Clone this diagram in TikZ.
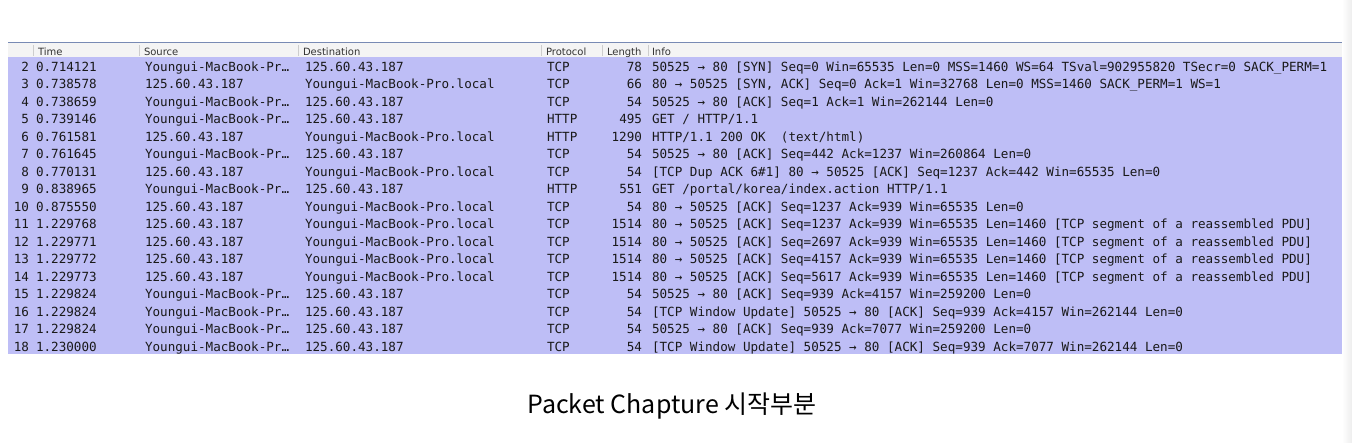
\documentclass[tikz,border=0pt]{standalone}
\usepackage{fontspec}
\newfontfamily\monofont{DejaVu Sans Mono}
\newfontfamily\hdrfont{DejaVu Sans}
\newfontfamily\capfont{Noto Sans CJK KR}
\definecolor{rowbg}{RGB}{190,190,246}
\definecolor{hdrbg}{RGB}{244,244,244}
\definecolor{topline}{RGB}{120,138,180}
\definecolor{sepcol}{RGB}{205,205,205}
\definecolor{txt}{RGB}{25,25,25}
\tikzset{
 cell/.style={inner sep=0pt, outer sep=0pt, font=\monofont\fontsize{12.6}{14}\selectfont, text=txt},
 lcell/.style={cell, anchor=base west},
 rcell/.style={cell, anchor=base east},
 hdr/.style={inner sep=0pt, outer sep=0pt, anchor=base west, font=\hdrfont\fontsize{10}{12}\selectfont, text=black!80},
 colsep/.style={draw=sepcol, line width=0.8pt},
}
\newcommand\pktrow[7]{%
 \pgfmathsetmacro\rowy{71+17.5*(#1-2)}%
 \node[rcell] (no#1) at (29,\rowy) {#1};
 \node[lcell] (t#1) at (36,\rowy) {#2};
 \node[lcell] (src#1) at (145,\rowy) {#3};
 \node[lcell] (dst#1) at (305,\rowy) {#4};
 \node[lcell] (pr#1) at (547,\rowy) {#5};
 \node[rcell] (len#1) at (642,\rowy) {#6};
 \node[lcell] (info#1) at (652,\rowy) {#7};
}
\begin{document}
\begin{tikzpicture}[x=1pt,y=-1pt]
\fill[white] (0,0) rectangle (1352,442);
\useasboundingbox (0,0) rectangle (1352,442);
% header and body
\fill[hdrbg] (8,42) rectangle (1342,57);
\fill[rowbg] (8,57) rectangle (1342,354);
\draw[topline, line width=1pt] (8,42) -- (1342,42);
\foreach \sx in {33,139,298,541,602,648}{
 \draw[colsep] (\sx,45) -- (\sx,56);
}
\node[hdr] (hTime) at (38,55) {Time};
\node[hdr] (hSrc) at (144,55) {Source};
\node[hdr] (hDst) at (303,55) {Destination};
\node[hdr] (hProto) at (546,55) {Protocol};
\node[hdr] (hLen) at (607,55) {Length};
\node[hdr] (hInfo) at (652,55) {Info};
% rows
\pktrow{2}{0.714121}{Youngui-MacBook-Pr…}{125.60.43.187}{TCP}{78}{50525 → 80 [SYN] Seq=0 Win=65535 Len=0 MSS=1460 WS=64 TSval=902955820 TSecr=0 SACK\_PERM=1}
\pktrow{3}{0.738578}{125.60.43.187}{Youngui-MacBook-Pro.local}{TCP}{66}{80 → 50525 [SYN, ACK] Seq=0 Ack=1 Win=32768 Len=0 MSS=1460 SACK\_PERM=1 WS=1}
\pktrow{4}{0.738659}{Youngui-MacBook-Pr…}{125.60.43.187}{TCP}{54}{50525 → 80 [ACK] Seq=1 Ack=1 Win=262144 Len=0}
\pktrow{5}{0.739146}{Youngui-MacBook-Pr…}{125.60.43.187}{HTTP}{495}{GET / HTTP/1.1}
\pktrow{6}{0.761581}{125.60.43.187}{Youngui-MacBook-Pro.local}{HTTP}{1290}{HTTP/1.1 200 OK\ \ (text/html)}
\pktrow{7}{0.761645}{Youngui-MacBook-Pr…}{125.60.43.187}{TCP}{54}{50525 → 80 [ACK] Seq=442 Ack=1237 Win=260864 Len=0}
\pktrow{8}{0.770131}{125.60.43.187}{Youngui-MacBook-Pro.local}{TCP}{54}{[TCP Dup ACK 6\#1] 80 → 50525 [ACK] Seq=1237 Ack=442 Win=65535 Len=0}
\pktrow{9}{0.838965}{Youngui-MacBook-Pr…}{125.60.43.187}{HTTP}{551}{GET /portal/korea/index.action HTTP/1.1}
\pktrow{10}{0.875550}{125.60.43.187}{Youngui-MacBook-Pro.local}{TCP}{54}{80 → 50525 [ACK] Seq=1237 Ack=939 Win=65535 Len=0}
\pktrow{11}{1.229768}{125.60.43.187}{Youngui-MacBook-Pro.local}{TCP}{1514}{80 → 50525 [ACK] Seq=1237 Ack=939 Win=65535 Len=1460 [TCP segment of a reassembled PDU]}
\pktrow{12}{1.229771}{125.60.43.187}{Youngui-MacBook-Pro.local}{TCP}{1514}{80 → 50525 [ACK] Seq=2697 Ack=939 Win=65535 Len=1460 [TCP segment of a reassembled PDU]}
\pktrow{13}{1.229772}{125.60.43.187}{Youngui-MacBook-Pro.local}{TCP}{1514}{80 → 50525 [ACK] Seq=4157 Ack=939 Win=65535 Len=1460 [TCP segment of a reassembled PDU]}
\pktrow{14}{1.229773}{125.60.43.187}{Youngui-MacBook-Pro.local}{TCP}{1514}{80 → 50525 [ACK] Seq=5617 Ack=939 Win=65535 Len=1460 [TCP segment of a reassembled PDU]}
\pktrow{15}{1.229824}{Youngui-MacBook-Pr…}{125.60.43.187}{TCP}{54}{50525 → 80 [ACK] Seq=939 Ack=4157 Win=259200 Len=0}
\pktrow{16}{1.229824}{Youngui-MacBook-Pr…}{125.60.43.187}{TCP}{54}{[TCP Window Update] 50525 → 80 [ACK] Seq=939 Ack=4157 Win=262144 Len=0}
\pktrow{17}{1.229824}{Youngui-MacBook-Pr…}{125.60.43.187}{TCP}{54}{50525 → 80 [ACK] Seq=939 Ack=7077 Win=259200 Len=0}
\pktrow{18}{1.230000}{Youngui-MacBook-Pr…}{125.60.43.187}{TCP}{54}{[TCP Window Update] 50525 → 80 [ACK] Seq=939 Ack=7077 Win=262144 Len=0}
% right-edge shadow
\shade[left color=white, right color=black!7, draw=none] (1342,0) rectangle (1352,442);
% caption
\node[inner sep=0pt, anchor=base, font=\capfont\fontsize{25}{28}\selectfont] (caption) at (672,413)
 {Packet Chapture 시작부분};
\end{tikzpicture}
\end{document}
